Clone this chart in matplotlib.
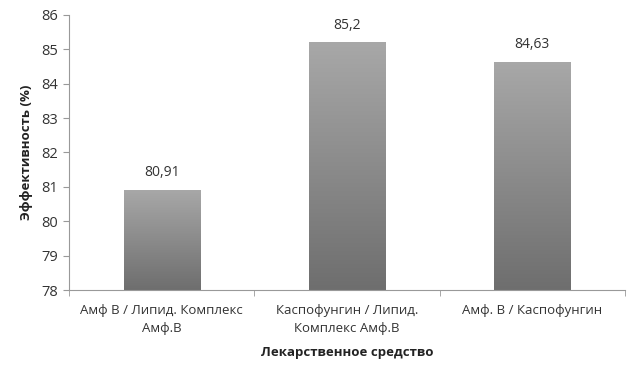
import matplotlib
matplotlib.use("Agg")
import matplotlib.pyplot as plt
import numpy as np
from matplotlib.colors import LinearSegmentedColormap

categories = ["Амф В / Липид. Комплекс\nАмф.В", "Каспофунгин / Липид.\nКомплекс Амф.В", "Амф. В / Каспофунгин"]
values = [80.91, 85.2, 84.63]
labels = ["80,91", "85,2", "84,63"]
yticks = [78, 79, 80, 81, 82, 83, 84, 85, 86]

plt.rcParams['font.family'] = ['Open Sans', 'DejaVu Sans']
fig = plt.figure(figsize=(6.32, 3.71), dpi=100)
ax = fig.add_axes([0.109, 0.218, 0.880, 0.742])

x = np.arange(len(categories))
bars = ax.bar(x, values, width=0.41, bottom=0, color='none', zorder=2)
ax.set_ylim(78, 86)
ax.set_xlim(-0.5, 2.5)

cmap = LinearSegmentedColormap.from_list("g", ["#6e6e6e", "#a8a8a8"])
grad = np.linspace(0, 1, 256).reshape(-1, 1)
for b, v in zip(bars, values):
    x0 = b.get_x()
    w = b.get_width()
    im = ax.imshow(grad, cmap=cmap, origin='lower', aspect='auto',
                   extent=[x0, x0 + w, 78, v], zorder=2)
    im.set_clip_path(b)
ax.set_xlim(-0.5, 2.5)
ax.set_ylim(78, 86)

for xi, v, lab in zip(x, values, labels):
    ax.text(xi, v + 0.28, lab, ha='center', va='bottom', fontsize=10, color='#333333')

ax.set_yticks(yticks)
ax.set_yticklabels([str(t) for t in yticks], fontsize=10.5, color='#333333')
ax.set_xticks(x)
ax.set_xticklabels(categories, fontsize=9.5, color='#333333', linespacing=1.5)
ax.set_xticks([-0.5, 0.5, 1.5, 2.5], minor=True)
ax.tick_params(axis='x', which='major', length=0, pad=10)
ax.tick_params(axis='x', which='minor', length=4, color='#999999', direction='out')
ax.tick_params(axis='y', length=4, color='#999999', direction='out')

for s in ['top', 'right']:
    ax.spines[s].set_visible(False)
for s in ['left', 'bottom']:
    ax.spines[s].set_color('#999999')
    ax.spines[s].set_linewidth(0.8)

ax.set_ylabel("Эффективность (%)", fontsize=9.5, fontweight='bold', color='#222222', labelpad=6)
ax.set_xlabel("Лекарственное средство", fontsize=9.5, fontweight='bold', color='#222222', labelpad=8)

fig.savefig("out.png", dpi=100)
